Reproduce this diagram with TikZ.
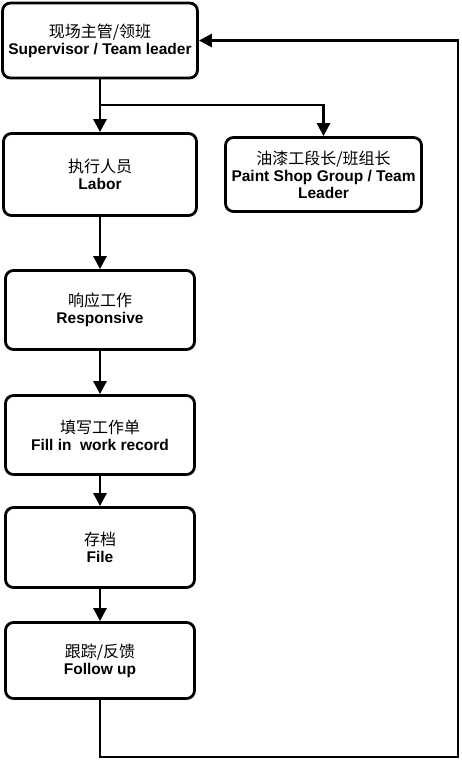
\documentclass[tikz,border=0pt]{standalone}
\usepackage{fontspec}
\setmainfont{Liberation Sans}
\newfontfamily\cjk{Noto Sans CJK SC}
\usetikzlibrary{arrows.meta}

\begin{document}
\begin{tikzpicture}[x=1pt,y=-1pt,
		box/.style={draw,line width=2.8pt,rounded corners=8pt,align=center,
			font=\fontsize{15.5}{17}\selectfont,inner sep=0pt},
		flow/.style={line width=2.8pt,-{Triangle[length=13pt,width=13pt]}}]
			\useasboundingbox (0,0) rectangle (461,760);
			
			% 绘制方框
			\node[box,minimum width=195pt,minimum height=75pt] (sup) at (100,40.5)
				{{\cjk\fontsize{16}{17}\selectfont 现场主管/领班}\\\textbf{Supervisor / Team leader}};
			\node[box,minimum width=193pt,minimum height=82pt] (labor) at (100,174.5)
				{{\cjk\fontsize{16}{17}\selectfont 执行人员}\\\textbf{Labor}};
			\node[box,minimum width=196pt,minimum height=74pt] (paint) at (323.5,174.5)
				{{\cjk\fontsize{16}{17}\selectfont 油漆工段长/班组长}\\\textbf{Paint Shop Group / Team}\\\textbf{Leader}};
			\node[box,minimum width=189pt,minimum height=79pt] (resp) at (100,310)
				{{\cjk\fontsize{16}{17}\selectfont 响应工作}\\\textbf{Responsive}};
			\node[box,minimum width=189pt,minimum height=79pt] (fill) at (100,435)
				{{\cjk\fontsize{16}{17}\selectfont 填写工作单}\\\textbf{Fill in\ \ work record}};
			\node[box,minimum width=189pt,minimum height=80pt] (file) at (100,547.5)
				{{\cjk\fontsize{16}{17}\selectfont 存档}\\\textbf{File}};
			\node[box,minimum width=189pt,minimum height=76pt] (follow) at (100,660.5)
				{{\cjk\fontsize{16}{17}\selectfont 跟踪/反馈}\\\textbf{Follow up}};
			
			% 绘制箭头
			\coordinate (branch) at (100,105);
			\coordinate (loopend) at (458,757);
			\draw[flow] (sup.south) -- (labor.north);
			\draw[flow] (branch) -| (paint.north);
			\draw[flow] (labor.south) -- (resp.north);
			\draw[flow] (resp.south) -- (fill.north);
			\draw[flow] (fill.south) -- (file.north);
			\draw[flow] (file.south) -- (follow.north);
			
			% 绘制反馈线
			\draw[flow] (follow.south) |- (loopend) |- (sup.east);
		\end{tikzpicture}
\end{document}
